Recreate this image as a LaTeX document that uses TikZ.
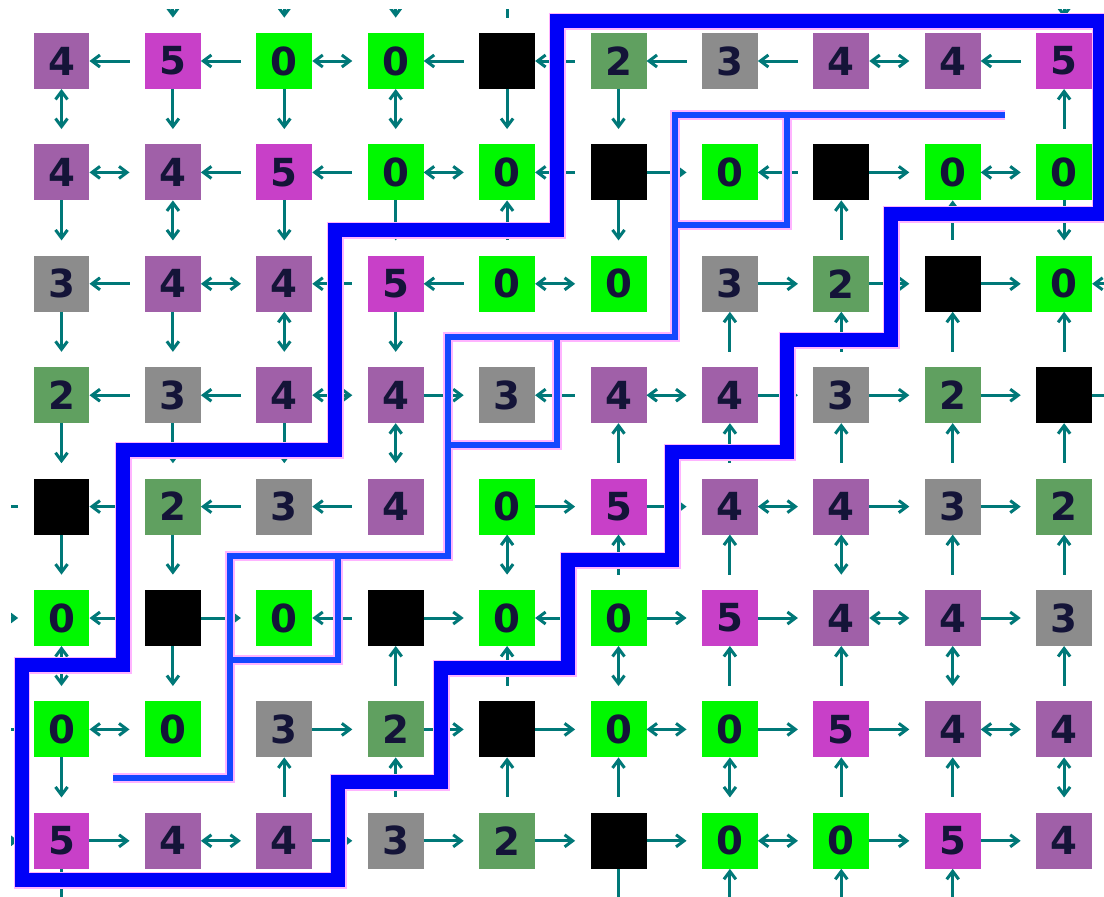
\documentclass[tikz,border=0pt]{standalone}
\usepackage{fontspec}
\setmainfont{DejaVu Sans}
\usetikzlibrary{arrows.meta}
\definecolor{cz}{HTML}{00F800}
\definecolor{ct}{HTML}{60A060}
\definecolor{cth}{HTML}{8C8C8C}
\definecolor{cf}{HTML}{A060A8}
\definecolor{cv}{HTML}{C840C8}
\definecolor{edgec}{HTML}{007878}
\definecolor{wallc}{HTML}{0000F8}
\definecolor{thinc}{HTML}{1448FF}
\definecolor{halo}{HTML}{FFB4FF}
\definecolor{digit}{HTML}{141438}
\tikzset{
  hd/.tip={Straight Barb[length=0.16cm,width=0.24cm]},
  cell/.style={rectangle, minimum size=1.12cm, inner sep=0pt, outer sep=0pt,
    font=\fontsize{22}{22}\selectfont\bfseries, text=digit},
  cell0/.style={fill=cz}, cell2/.style={fill=ct}, cell3/.style={fill=cth},
  cell4/.style={fill=cf}, cell5/.style={fill=cv}, cellK/.style={fill=black},
  link/.style={draw=edgec, line width=0.06cm, shorten >=0.308cm},
  eN/.style={link},
  eL/.style={link, arrows={hd-}},
  eR/.style={link, arrows={-hd}},
  eB/.style={link, arrows={hd-hd}},
  eX/.style={draw=none},
  wallhalo/.style={draw=halo, line width=0.34cm, line join=miter},
  wallthick/.style={draw=wallc, line width=0.28cm, line join=miter},
  thinhalo/.style={draw=halo, line width=0.19cm, line join=miter},
  wallthin/.style={draw=thinc, line width=0.12cm, line join=miter},
}
\begin{document}
\begin{tikzpicture}[x=0.02cm,y=-0.02cm]
\useasboundingbox (0,0) rectangle (1104,896);
\fill[white] (0,0) rectangle (1104,896);
\clip (11,9) rectangle (1104,896);
% cells
\foreach \r/\vals in {0/{4,5,0,0,K,2,3,4,4,5},1/{4,4,5,0,0,K,0,K,0,0},2/{3,4,4,5,0,0,3,2,K,0},3/{2,3,4,4,3,4,4,3,2,K},4/{K,2,3,4,0,5,4,4,3,2},5/{0,K,0,K,0,0,5,4,4,3},6/{0,0,3,2,K,0,0,5,4,4},7/{5,4,4,3,2,K,0,0,5,4}}{
  \foreach \v [count=\c from 0] in \vals {
    \edef\lab{\if K\v\else\v\fi}
    \node[cell, cell\v] (n-\r-\c) at ({61.5+111.4*\c},{61+111.4*\r}) {\lab};
  }
}
% horizontal links
\foreach \r/\list in {0/{eL,eL,eB,eL,eL,eL,eL,eB,eL},1/{eB,eL,eL,eB,eL,eR,eL,eR,eB},2/{eL,eB,eL,eL,eB,eX,eR,eR,eR},3/{eL,eL,eB,eR,eL,eB,eR,eR,eR},4/{eL,eL,eL,eX,eR,eR,eB,eR,eR},5/{eL,eR,eL,eR,eL,eR,eR,eB,eR},6/{eB,eX,eR,eR,eR,eB,eR,eR,eB},7/{eR,eB,eR,eR,eR,eR,eB,eR,eR}}{
  \foreach \t [count=\c from 0] in \list {
    \pgfmathtruncatemacro\cn{\c+1}
    \path[\t] (n-\r-\c) -- (n-\r-\cn);
  }
}
% vertical links
\foreach \r/\list in {0/{eB,eR,eR,eB,eR,eR,eX,eX,eX,eL},1/{eR,eB,eR,eR,eL,eR,eX,eL,eL,eR},2/{eR,eR,eB,eR,eX,eX,eL,eL,eL,eL},3/{eR,eR,eR,eB,eX,eL,eL,eL,eL,eL},4/{eR,eR,eX,eX,eB,eL,eL,eB,eL,eL},5/{eB,eR,eX,eL,eL,eB,eL,eL,eB,eL},6/{eR,eX,eL,eL,eL,eL,eB,eL,eL,eB}}{
  \foreach \t [count=\c from 0] in \list {
    \pgfmathtruncatemacro\rn{\r+1}
    \path[\t] (n-\r-\c) -- (n-\rn-\c);
  }
}
% links leaving the frame
\foreach \c/\t in {1/eR,2/eR,3/eR,4/eL,9/eR}{
  \coordinate (t-\c) at ({61.5+111.4*\c},-22.4);
  \path[\t] (t-\c) -- (n-0-\c);
}
\foreach \r/\t in {4/eN,5/eR,6/eN,7/eR}{
  \coordinate (l-\r) at (-22,{61+111.4*\r});
  \path[\t] (l-\r) -- (n-\r-0);
}
\foreach \r/\t in {0/eN,1/eN,2/eL,3/eN}{
  \coordinate (rt-\r) at (1147,{61+111.4*\r});
  \path[\t] (n-\r-9) -- (rt-\r);
}
\foreach \c/\t in {0/eR,5/eR,6/eL,7/eL,8/eL}{
  \coordinate (b-\c) at ({61.5+111.4*\c},924.8);
  \path[\t] (n-7-\c) -- (b-\c);
}
% thin walls
\path[thinhalo] (1005,115) -- (675,115) -- (675,337) -- (448,337) -- (448,556) -- (230,556) -- (230,778) -- (113,778);
\path[thinhalo] (675,225) -- (787,225) -- (787,115);
\path[thinhalo] (448,445) -- (557,445) -- (557,337);
\path[thinhalo] (230,660) -- (338,660) -- (338,556);
\path[wallthin] (1005,115) -- (675,115) -- (675,337) -- (448,337) -- (448,556) -- (230,556) -- (230,778) -- (113,778);
\path[wallthin] (675,225) -- (787,225) -- (787,115);
\path[wallthin] (448,445) -- (557,445) -- (557,337);
\path[wallthin] (230,660) -- (338,660) -- (338,556);
% thick wall
\path[wallhalo] (123,450) -- (335,450) -- (335,230) -- (557,230) -- (557,21) -- (1100,21) -- (1100,214) -- (891,214) -- (891,340) -- (787,340) -- (787,452) -- (672,452) -- (672,560) -- (568,560) -- (568,668) -- (441,668) -- (441,782) -- (338,782) -- (338,880) -- (22,880) -- (22,665) -- (123,665) -- cycle;
\path[wallthick] (123,450) -- (335,450) -- (335,230) -- (557,230) -- (557,21) -- (1100,21) -- (1100,214) -- (891,214) -- (891,340) -- (787,340) -- (787,452) -- (672,452) -- (672,560) -- (568,560) -- (568,668) -- (441,668) -- (441,782) -- (338,782) -- (338,880) -- (22,880) -- (22,665) -- (123,665) -- cycle;
\end{tikzpicture}
\end{document}
